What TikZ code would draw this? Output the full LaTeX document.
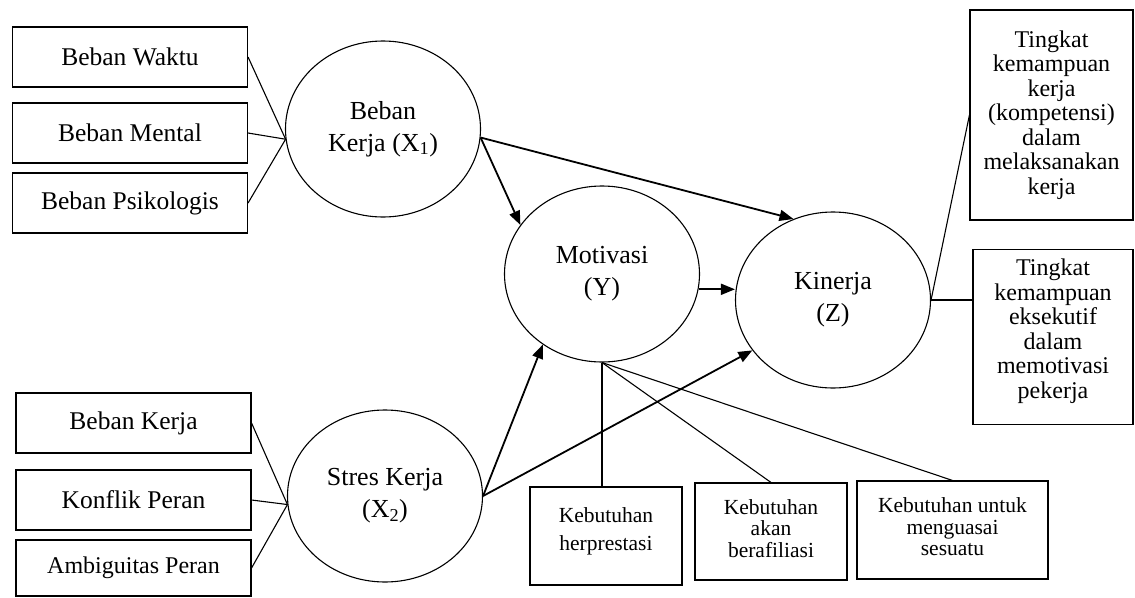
\documentclass[tikz,border=0pt]{standalone}
\usepackage{fontspec}
\setmainfont{Liberation Serif}
\usetikzlibrary{arrows.meta,shapes.geometric}
\begin{document}
\begin{tikzpicture}[x=1pt,y=-1pt,
  box/.style={draw, line width=1.1pt, minimum width=235pt, minimum height=60pt, inner sep=0pt, font=\fontsize{25.5}{30}\selectfont},
  lat/.style={draw, ellipse, line width=1.1pt, minimum width=195pt, minimum height=176pt, inner sep=0pt, align=center, font=\fontsize{26}{32}\selectfont},
  rbox/.style={draw, line width=1.1pt, inner sep=0pt, align=center, font=\fontsize{24}{24.5}\selectfont},
  bbox/.style={draw, line width=1.1pt, inner sep=0pt, align=center, font=\fontsize{21.5}{21.5}\selectfont},
  link/.style={line width=1.1pt},
  arr/.style={line width=1.8pt, -{Triangle[length=14pt,width=11pt]}}
]
\useasboundingbox (0,0) rectangle (1135,597);
\fill[white] (0,0) rectangle (1135,597);

% left indicator boxes (X1)
\node[box] (L1) at (130,57) {Beban Waktu};
\node[box] (L2) at (130,133) {Beban Mental};
\node[box] (L3) at (130,203) {Beban Psikologis};
% left indicator boxes (X2)
\node[box] (L4) at (133.5,423) {Beban Kerja};
\node[box] (L5) at (133.5,500) {Konflik Peran};
\node[box, minimum height=56pt, font=\fontsize{24}{30}\selectfont] (L6) at (133.5,568) {Ambiguitas Peran};

% latent variables
\node[lat] (X1) at (383,129) {Beban\\Kerja (X\textsubscript{1})};
\node[lat] (Mot) at (602,274) {Motivasi\\(Y)};
\node[lat] (Kin) at (833,300) {Kinerja\\(Z)};
\node[lat, minimum height=172pt] (Str) at (385,496) {Stres Kerja\\(X\textsubscript{2})};

% right indicator boxes (Z)
\node[rbox, minimum width=163pt, minimum height=210pt] (R1) at (1051.5,115)
  {Tingkat\\kemampuan\\kerja\\(kompetensi)\\dalam\\melaksanakan\\kerja};
\node[rbox, minimum width=160pt, minimum height=175pt] (R2) at (1053,337)
  {Tingkat\\kemampuan\\eksekutif\\dalam\\memotivasi\\pekerja\\[-8pt]};

% bottom indicator boxes (Y)
\node[bbox, minimum width=152pt, minimum height=98pt, font=\fontsize{21.5}{28}\selectfont] (B1) at (606,536)
  {Kebutuhan\\herprestasi\\[-14pt]};
\node[bbox, minimum width=152pt, minimum height=97pt] (B2) at (771,531.5)
  {Kebutuhan\\akan\\berafiliasi\\[-15.5pt]};
\node[bbox, minimum width=191pt, minimum height=98pt] (B3) at (952.5,530)
  {Kebutuhan untuk\\menguasai\\sesuatu\\[-15.5pt]};

% indicator links
\draw[link] (L1.east) -- (X1.186);
\draw[link] (L2.east) -- (X1.186);
\draw[link] (L3.east) -- (X1.186);
\draw[link] (L4.east) -- (Str.185);
\draw[link] (L5.east) -- (Str.185);
\draw[link] (L6.east) -- (Str.185);
\draw[link] (Kin.east) -- (R1.west);
\draw[link] (Kin.east) -- (Kin.east -| R2.west);
\draw[link] (Mot.south) -- (Mot.south |- B1.north);
\draw[link] (Mot.south) -- (B2.north);
\draw[link] (Mot.south) -- (B3.north);

% structural paths
\draw[arr] (X1.-5) -- (Mot.149);
\draw[arr] (X1.-5) -- (Kin.116);
\draw[arr] (Mot.-9) -- (Mot.-9 -| Kin.west);
\draw[arr] (Str.east) -- (Mot.230);
\draw[arr] (Str.east) -- (Kin.212);
\end{tikzpicture}
\end{document}
